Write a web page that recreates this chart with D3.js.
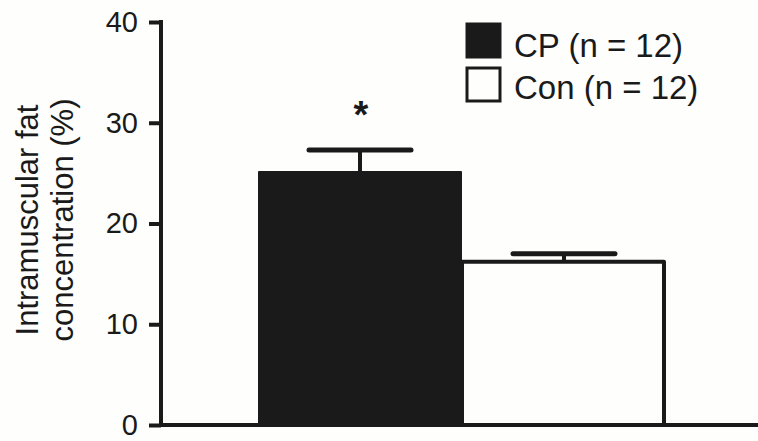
<!DOCTYPE html>
<html><head><meta charset="utf-8">
<script src="https://cdn.jsdelivr.net/npm/d3@7"></script>
<style>
html,body{margin:0;padding:0;background:#fefefc;}
text{font-family:"Liberation Sans",Arial,sans-serif;fill:#1a1a1a;}
</style></head>
<body><svg id="chart" width="758" height="441"></svg>
<script>
const categories = ["CP (n = 12)", "Con (n = 12)"];
const means = [25.2, 16.2];
const errors = [2.1, 0.8];
const yTicks = [0, 10, 20, 30, 40];
const yLabelLines = ["Intramuscular fat", "concentration (%)"];
const significance = ["*", ""];

const svg = d3.select("#chart");
const ink = "#1a1a1a";
const bg = "#fefefc";
const y = d3.scaleLinear().domain([0, 40]).range([425, 22]);
const x = d3.scaleBand().domain(categories).range([258, 666]).padding(0);
const axisX = 161;

const fills = [ink, bg];
categories.forEach((c, i) => {
  const x0 = x(c), w = x.bandwidth();
  const cx = x0 + w / 2;
  const top = y(means[i] + errors[i]);
  svg.append("line").attr("x1", cx).attr("x2", cx)
    .attr("y1", y(means[i])).attr("y2", top)
    .attr("stroke", ink).attr("stroke-width", 4);
  svg.append("line").attr("x1", cx - 51).attr("x2", cx + 51)
    .attr("y1", top).attr("y2", top)
    .attr("stroke", ink).attr("stroke-width", 5).attr("stroke-linecap", "round");
  if (i === 0) {
    svg.append("rect").attr("x", x0).attr("y", y(means[i]))
      .attr("width", w).attr("height", y(0) - y(means[i]))
      .attr("fill", ink).attr("rx", 1);
  } else {
    svg.append("rect").attr("x", x0).attr("y", y(means[i]))
      .attr("width", w - 2).attr("height", y(0) - y(means[i]))
      .attr("fill", bg).attr("stroke", ink).attr("stroke-width", 4)
      .attr("stroke-linejoin", "round");
  }
  if (significance[i]) {
    svg.append("text").attr("x", cx + 1).attr("y", top - 22)
      .attr("text-anchor", "middle").attr("font-size", 38).attr("font-weight", "bold")
      .text(significance[i]);
  }
});

// y axis
const yAxis = d3.axisLeft(y).tickValues(yTicks).tickSize(12).tickPadding(11);
const gy = svg.append("g").attr("transform", `translate(${axisX},0)`).call(yAxis);
gy.select(".domain").remove();
gy.selectAll(".tick line").attr("stroke", ink).attr("stroke-width", 4);
gy.selectAll(".tick text").attr("font-size", 29).attr("fill", ink)
  .attr("font-family", "Liberation Sans, Arial, sans-serif");
svg.append("line").attr("x1", axisX).attr("x2", axisX).attr("y1", y(40) - 2).attr("y2", y(0) + 2)
  .attr("stroke", ink).attr("stroke-width", 4);
// x axis
svg.append("line").attr("x1", axisX - 2).attr("x2", 758).attr("y1", y(0)).attr("y2", y(0))
  .attr("stroke", ink).attr("stroke-width", 4);

// y label
const yl = svg.append("text").attr("transform", "translate(38,220) rotate(-90)")
  .attr("text-anchor", "middle").attr("font-size", 31);
yl.append("tspan").attr("x", 0).attr("dy", 0).text(yLabelLines[0]);
yl.append("tspan").attr("x", 0).attr("dy", 35).text(yLabelLines[1]);

// legend
const lg = svg.append("g");
categories.forEach((c, i) => {
  const ly = 24 + i * 44;
  lg.append("rect").attr("x", 467).attr("y", ly).attr("width", 33).attr("height", 33)
    .attr("fill", fills[i]).attr("stroke", ink).attr("stroke-width", 3);
  lg.append("text").attr("x", 514).attr("y", 57 + i * 42).attr("font-size", 33).text(c);
});
</script></body></html>
